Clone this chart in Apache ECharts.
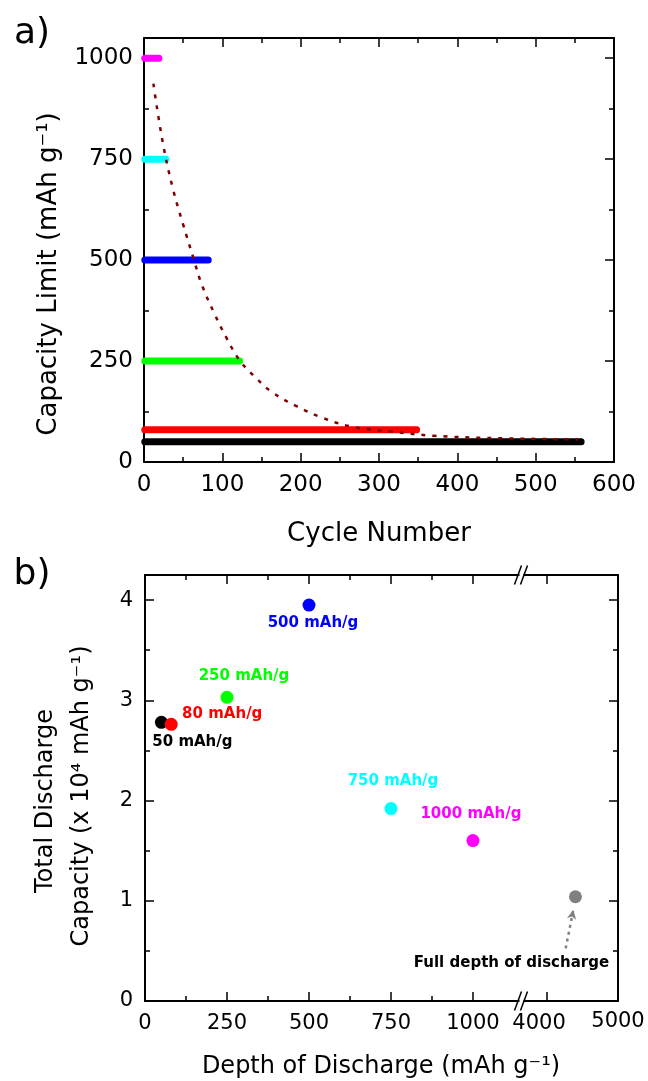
<!DOCTYPE html>
<html><head><meta charset="utf-8">
<script src="https://cdn.jsdelivr.net/npm/echarts@6/dist/echarts.min.js"></script>
<style>html,body{margin:0;padding:0;background:#fff}#c{width:648px;height:1081px}</style>
</head><body><div id="c"></div>
<script>
// ---------- Panel a) data ----------
const capacityLimits = [1000, 750, 500, 250, 80, 50];
const lastCycle = [19, 28, 82, 122, 348, 558];
const trendCycles = [12, 24, 37, 50, 64, 74, 90, 106, 122, 143, 164, 196, 227, 264, 317, 370, 449, 554];
const trendCapacity = [937, 791, 676, 588, 499, 438, 367, 305, 252, 208, 172, 137, 110, 88, 75, 65, 59, 56];
const aXTicks = [0, 100, 200, 300, 400, 500, 600];
const aXMinor = [50, 150, 250, 350, 450, 550];
const aYTicks = [0, 250, 500, 750, 1000];
const aYMinor = [125, 375, 625, 875];

// ---------- Panel b) data ----------
const depthOfDischarge = [50, 80, 250, 500, 750, 1000];
const totalCapacity = [2.78, 2.76, 3.03, 3.95, 1.92, 1.60];
const pointLabels = ['50 mAh/g', '80 mAh/g', '250 mAh/g', '500 mAh/g', '750 mAh/g', '1000 mAh/g'];
const fullDepthDoD = [4400];
const fullDepthCapacity = [1.04];
const fullDepthLabel = 'Full depth of discharge';
const bXTicksLow = [0, 250, 500, 750, 1000];
const bXMinorLow = [125, 375, 625, 875];
const bXTicksHigh = [4000, 5000];
const bYTicks = [0, 1, 2, 3, 4];
const bYMinor = [0.5, 1.5, 2.5, 3.5];

// ---------- styles ----------
const FONT = 'DejaVu Sans';
const limitColors = ['#ff00ff', '#00ffff', '#0000ff', '#00ff00', '#ff0000', '#000000'];
const pointColors = ['#000000', '#ff0000', '#00ff00', '#0000ff', '#00ffff', '#ff00ff'];
const labelOffsets = [[31, 20], [51, -10], [17, -21], [4, 18], [2, -27], [-2, -27]];

function axes(gridIndex, position, min, max, major, minor, label) {
  const base = { type: 'value', gridIndex, position, min, max, splitLine: { show: false } };
  const out = [Object.assign({}, base, {
    axisLine: { show: true, onZero: false, lineStyle: { color: '#000', width: 2 } },
    axisTick: { show: true, inside: true, length: 9, customValues: major, lineStyle: { color: '#000', width: 1.5 } },
    axisLabel: label ? Object.assign({
      color: '#000', fontFamily: FONT, customValues: major, hideOverlap: false,
      formatter: v => String(v)
    }, label) : { show: false }
  })];
  if (minor && minor.length) {
    out.push(Object.assign({}, base, {
      axisLine: { show: false, onZero: false },
      axisTick: { show: true, inside: true, length: 5, customValues: minor, lineStyle: { color: '#000', width: 1.5 } },
      axisLabel: { show: false }
    }));
  }
  return out;
}

const xAxis = [].concat(
  axes(0, 'bottom', 0, 600, aXTicks, aXMinor, { fontSize: 23, margin: 12 }),   // 0,1
  axes(0, 'top', 0, 600, aXTicks, aXMinor, null),                              // 2,3
  axes(1, 'bottom', 0, 1148, bXTicksLow, bXMinorLow, { fontSize: 21, margin: 12 }), // 4,5
  axes(1, 'top', 0, 1148, bXTicksLow, bXMinorLow, null),                        // 6,7
  axes(2, 'bottom', 3640, 5000, bXTicksHigh, null, {
    fontSize: 21, margin: 12, customValues: bXTicksHigh.slice(0, 1),
    formatter: v => '{s|' + v + '}',
    rich: { s: { fontSize: 21, fontFamily: FONT, color: '#000', padding: [0, 16, 0, 0] } }
  }), // 8
  axes(2, 'top', 3640, 5000, bXTicksHigh, null, null)                           // 9
);
const yAxis = [].concat(
  axes(0, 'left', 0, 1050, aYTicks, aYMinor, { fontSize: 23, margin: 11 }),  // 0,1
  axes(0, 'right', 0, 1050, aYTicks, aYMinor, null),                        // 2,3
  axes(1, 'left', 0, 4.25, bYTicks, bYMinor, { fontSize: 21, margin: 12 }), // 4,5
  axes(2, 'right', 0, 4.25, bYTicks, bYMinor, null)                         // 6,7
);

const series = [];
capacityLimits.forEach((lim, i) => {
  series.push({
    type: 'line', xAxisIndex: 0, yAxisIndex: 0, showSymbol: false, z: 3,
    data: [[1, lim], [lastCycle[i], lim]],
    lineStyle: { color: limitColors[i], width: 7, cap: 'round' }
  });
});
series.push({
  type: 'line', xAxisIndex: 0, yAxisIndex: 0, showSymbol: false, smooth: 0.4, z: 5,
  data: trendCycles.map((c, i) => [c, trendCapacity[i]]),
  lineStyle: { color: '#800000', width: 2.5, type: [4, 7] }
});
depthOfDischarge.forEach((d, i) => {
  series.push({
    type: 'scatter', xAxisIndex: 4, yAxisIndex: 4, symbolSize: 13,
    itemStyle: { color: pointColors[i], opacity: 1 },
    data: [[d, totalCapacity[i]]],
    label: {
      show: true, position: 'inside', offset: labelOffsets[i], formatter: pointLabels[i],
      color: pointColors[i], fontFamily: FONT, fontWeight: 'bold', fontSize: 15
    }
  });
});
series.push({
  type: 'scatter', xAxisIndex: 8, yAxisIndex: 6, symbolSize: 13,
  itemStyle: { color: '#808080', opacity: 1 },
  data: [[fullDepthDoD[0], fullDepthCapacity[0]]],
  label: {
    show: true, position: 'inside', offset: [-64, 66], formatter: fullDepthLabel,
    color: '#000', fontFamily: FONT, fontWeight: 'bold', fontSize: 15
  },
  markLine: {
    silent: true, animation: false, symbol: ['none', 'arrow'], symbolSize: [7, 9],
    label: { show: false },
    lineStyle: { color: '#808080', width: 2.5, type: [3, 4] },
    data: [[{ coord: [4263, 0.525] }, { coord: [4370, 0.908] }]]
  }
});

function txt(text, x, y, size, rot) {
  return {
    type: 'text', x, y, rotation: rot || 0, z: 100,
    style: { text, fill: '#000', font: size + 'px "' + FONT + '"', textAlign: 'center', textVerticalAlign: 'middle' }
  };
}
function breakMark(cx, cy) {
  return [
    { type: 'rect', z: 100, shape: { x: cx - 2, y: cy - 2.5, width: 4, height: 5 }, style: { fill: '#fff' } },
    { type: 'line', z: 101, shape: { x1: cx - 7, y1: cy + 9.5, x2: cx, y2: cy - 9.5 }, style: { stroke: '#000', lineWidth: 1.5 } },
    { type: 'line', z: 101, shape: { x1: cx - 1, y1: cy + 9.5, x2: cx + 6, y2: cy - 9.5 }, style: { stroke: '#000', lineWidth: 1.5 } }
  ];
}

const graphic = [
  txt('a)', 32, 34, 36),
  txt('b)', 32, 575, 36),
  txt('Capacity Limit (mAh g\u207B\u00B9)', 49, 274, 26, Math.PI / 2),
  txt('Cycle Number', 379, 534, 26),
  txt('Total Discharge', 46, 801, 24, Math.PI / 2),
  txt('Capacity (x 10\u2074 mAh g\u207B\u00B9)', 82, 796, 24, Math.PI / 2),
  txt('Depth of Discharge (mAh g\u207B\u00B9)', 381, 1067, 24)
].concat(breakMark(521.5, 575), breakMark(521.5, 1001));

const chart = echarts.init(document.getElementById('c'), null, { renderer: 'canvas' });
chart.setOption({
  animation: false,
  backgroundColor: '#fff',
  textStyle: { fontFamily: FONT },
  grid: [
    { left: 144, top: 38, width: 470, height: 424 },
    { left: 145, top: 575, width: 376.5, height: 426 },
    { left: 521.5, top: 575, width: 96.5, height: 426 }
  ],
  xAxis, yAxis, series, graphic
});
// last tick label of the broken axis, placed through the axis scale
const lastTick = bXTicksHigh[bXTicksHigh.length - 1];
const px = chart.convertToPixel({ xAxisIndex: 8 }, lastTick);
const py = chart.convertToPixel({ yAxisIndex: 6 }, 0);
graphic.push(txt(String(lastTick), px, py + 21, 21));
chart.setOption({ graphic });
</script></body></html>
